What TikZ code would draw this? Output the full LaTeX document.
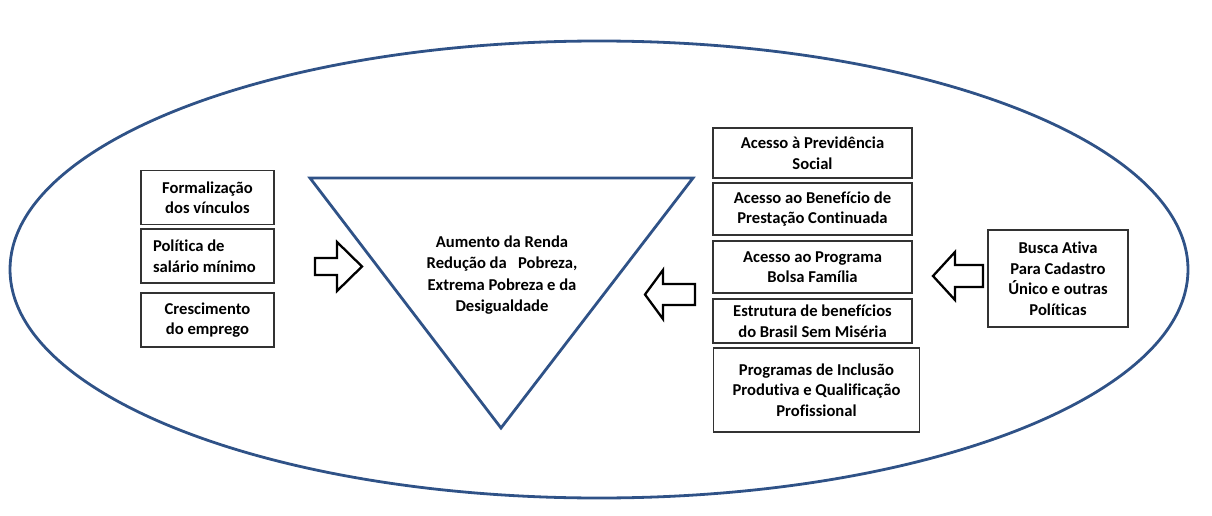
\documentclass[tikz,border=0pt]{standalone}
\usepackage{fontspec}
\setmainfont[Ligatures=NoCommon]{Carlito}
\definecolor{blueln}{RGB}{47,82,135}
\definecolor{boxgray}{RGB}{50,50,50}
\begin{document}
\begin{tikzpicture}[x=1pt,y=-1pt,
  txt/.style={font=\bfseries\fontsize{16.6}{20.5}\selectfont,text=black},
  box/.style={txt,draw=boxgray,line width=1.3pt,inner sep=0pt,align=center},
  blockarrow/.style={draw=black,line width=2.3pt,line join=miter,fill=white},
  blueline/.style={draw=blueln,line width=2.8pt}]
\useasboundingbox (0,0) rectangle (1212,516);
% outer ellipse
\draw[blueline] (599,269.5) ellipse [x radius=589, y radius=228.5];
% triangle
\coordinate (tl) at (310,178);
\coordinate (tr) at (693,178);
\coordinate (tb) at (501,428);
\draw[blueline,line join=miter] (tl) -- (tr) -- (tb) -- cycle;
\node[txt,align=center,font=\bfseries\fontsize{16.6}{21.5}\selectfont] (goal) at (502,275) {Aumento da Renda\\Redução da \ \ Pobreza,\\Extrema Pobreza e da\\Desigualdade};
% left boxes
\node[box,minimum width=133pt,minimum height=54pt] (form) at (207.5,197.5) {Formalização\\dos vínculos};
\node[box,align=flush left,text width=109pt,inner xsep=12pt,minimum height=54pt] (sal) at (207.5,256) {Política de\\salário mínimo};
\node[box,minimum width=133pt,minimum height=54pt] (cresc) at (207.5,320) {Crescimento\\do emprego};
% right boxes
\node[box,minimum width=199pt,minimum height=50pt] (prev) at (812.5,153) {Acesso à Previdência\\Social};
\node[box,minimum width=199pt,minimum height=52pt] (bpc) at (812.5,209) {Acesso ao Benefício de\\Prestação Continuada};
\node[box,minimum width=199pt,minimum height=52pt] (pbf) at (812.5,267) {Acesso ao Programa\\Bolsa Família};
\node[box,minimum width=199pt,minimum height=44pt] (bsm) at (812.5,321) {Estrutura de benefícios\\do Brasil Sem Miséria};
\node[box,minimum width=206pt,minimum height=84pt] (incl) at (816.5,390) {Programas de Inclusão\\Produtiva e Qualificação\\Profissional};
% far right box
\node[box,minimum width=140pt,minimum height=97pt] (busca) at (1058,278.5) {Busca Ativa\\Para Cadastro\\Único e outras\\Políticas};
% block arrows
\draw[blockarrow] (315,258) -- (337,258) -- (337,242) -- (362,266.5) -- (337,291) -- (337,275) -- (315,275) -- cycle;
\draw[blockarrow] (695,284) -- (663,284) -- (663,270) -- (645,294.5) -- (663,319) -- (663,305) -- (695,305) -- cycle;
\draw[blockarrow] (983,265) -- (955,265) -- (955,252) -- (933,276) -- (955,300) -- (955,287) -- (983,287) -- cycle;
\end{tikzpicture}
\end{document}
